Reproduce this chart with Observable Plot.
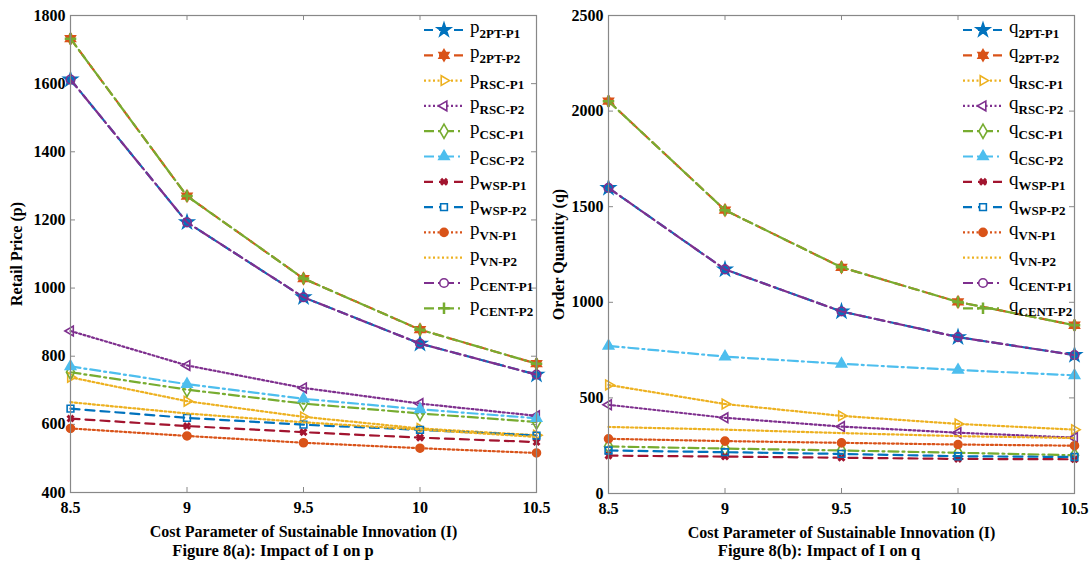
<!DOCTYPE html>
<html><head><meta charset="utf-8">
<script src="https://cdn.jsdelivr.net/npm/d3@7"></script>
<script src="https://cdn.jsdelivr.net/npm/@observablehq/plot@0.6"></script>
<style>
body{margin:0;background:#fff;font-family:"Liberation Serif","Times New Roman",serif;}
#wrap{display:flex;width:1092px;}
.panel{position:relative;width:546px;}
.panel > svg{overflow:visible;}
.panel:first-child{z-index:2;}
.caption{text-align:center;font-weight:bold;font-size:16.5px;line-height:20px;color:#000;padding-top:1px;}
.legend{position:absolute;left:0;top:0;pointer-events:none;}
</style></head><body><div id="wrap"></div>
<script>
// ---------- data ----------
const I = [8.5, 9, 9.5, 10, 10.5];
const xTicks = [8.5, 9, 9.5, 10, 10.5];
const xTickLabels = ["8.5", "9", "9.5", "10", "10.5"];
const pTicks = [400, 600, 800, 1000, 1200, 1400, 1600, 1800];
const qTicks = [0, 500, 1000, 1500, 2000, 2500];
const seriesKeys = ["2PT-P1","2PT-P2","RSC-P1","RSC-P2","CSC-P1","CSC-P2","WSP-P1","WSP-P2","VN-P1","VN-P2","CENT-P1","CENT-P2"];

// Figure 8(a): retail price p
const p_2PT_P1  = [1612, 1193, 973, 837, 746];
const p_2PT_P2  = [1732, 1270, 1028, 878, 778];
const p_RSC_P1  = [738, 668, 622, 588, 568];
const p_RSC_P2  = [874, 773, 707, 661, 625];
const p_CSC_P1  = [753, 702, 661, 632, 607];
const p_CSC_P2  = [770, 718, 675, 644, 618];
const p_WSP_P1  = [617, 595, 577, 561, 548];
const p_WSP_P2  = [646, 619, 599, 584, 567];
const p_VN_P1   = [588, 566, 546, 530, 516];
const p_VN_P2   = [665, 632, 606, 585, 563];
const p_CENT_P1 = [1612, 1193, 973, 837, 746];
const p_CENT_P2 = [1732, 1270, 1028, 878, 778];

// Figure 8(b): order quantity q
const q_2PT_P1  = [1598, 1172, 952, 818, 724];
const q_2PT_P2  = [2052, 1482, 1183, 1002, 880];
const q_RSC_P1  = [568, 468, 406, 364, 334];
const q_RSC_P2  = [464, 396, 350, 318, 292];
const q_CSC_P1  = [246, 235, 225, 213, 200];
const q_CSC_P2  = [772, 716, 678, 646, 618];
const q_WSP_P1  = [198, 193, 187, 181, 179];
const q_WSP_P2  = [225, 216, 207, 195, 191];
const q_VN_P1   = [286, 274, 265, 256, 250];
const q_VN_P2   = [348, 334, 316, 300, 290];
const q_CENT_P1 = [1598, 1172, 952, 818, 724];
const q_CENT_P2 = [2052, 1482, 1183, 1002, 880];

const pValues = [p_2PT_P1,p_2PT_P2,p_RSC_P1,p_RSC_P2,p_CSC_P1,p_CSC_P2,p_WSP_P1,p_WSP_P2,p_VN_P1,p_VN_P2,p_CENT_P1,p_CENT_P2];
const qValues = [q_2PT_P1,q_2PT_P2,q_RSC_P1,q_RSC_P2,q_CSC_P1,q_CSC_P2,q_WSP_P1,q_WSP_P2,q_VN_P1,q_VN_P2,q_CENT_P1,q_CENT_P2];

// ---------- custom symbols ----------
function poly(ctx, pts){ ctx.moveTo(pts[0][0],pts[0][1]); for(let i=1;i<pts.length;i++) ctx.lineTo(pts[i][0],pts[i][1]); ctx.closePath(); }
const hexagram = {draw(ctx, size){ const R=Math.sqrt(size/Math.PI)*1.35, r=R/Math.sqrt(3); const pts=[];
  for(let i=0;i<12;i++){ const a=-Math.PI/2+i*Math.PI/6, rr=i%2?r:R; pts.push([rr*Math.cos(a), rr*Math.sin(a)]); } poly(ctx,pts);} };
const triRight = {draw(ctx, size){ const R=Math.sqrt(size/Math.PI)*1.3; poly(ctx,[[R,0],[-R/2,-R*Math.sqrt(3)/2],[-R/2,R*Math.sqrt(3)/2]]);} };
const triLeft  = {draw(ctx, size){ const R=Math.sqrt(size/Math.PI)*1.3; poly(ctx,[[-R,0],[R/2,-R*Math.sqrt(3)/2],[R/2,R*Math.sqrt(3)/2]]);} };
const triUp    = {draw(ctx, size){ const R=Math.sqrt(size/Math.PI)*1.3; poly(ctx,[[0,-R],[R*Math.sqrt(3)/2,R/2],[-R*Math.sqrt(3)/2,R/2]]);} };
const d3sym = {star:d3.symbolStar, diamond:d3.symbolDiamond, times:d3.symbolTimes, square:d3.symbolSquare, circle:d3.symbolCircle, plus:d3.symbolPlus};

const DASH="9,6", DOT="2,2.5", DASHDOT="10,4,2,4";
const styleOf = {
  "2PT-P1": {color:"#0072BD", dash:DASH, symbol:"star", fill:true, r:4.2},
  "2PT-P2": {color:"#D95319", dash:DASH, symbol:hexagram, fill:true, r:4.2},
  "RSC-P1": {color:"#EDB120", dash:DOT, symbol:triRight, fill:false, r:4.3},
  "RSC-P2": {color:"#7E2F8E", dash:DOT, symbol:triLeft, fill:false, r:4.3},
  "CSC-P1": {color:"#77AC30", dash:DASHDOT, symbol:"diamond", fill:false, r:4.3},
  "CSC-P2": {color:"#4DBEEE", dash:DASHDOT, symbol:triUp, fill:true, r:4.6},
  "WSP-P1": {color:"#A2142F", dash:DASH, symbol:"times", fill:false, r:2.8, sw:3},
  "WSP-P2": {color:"#0072BD", dash:DASH, symbol:"square", fill:false, r:3.8},
  "VN-P1":  {color:"#D95319", dash:DOT, symbol:"circle", fill:true, r:4},
  "VN-P2":  {color:"#EDB120", dash:DOT, symbol:null},
  "CENT-P1":{color:"#7E2F8E", dash:DASHDOT, symbol:"circle", fill:false, r:4.3},
  "CENT-P2":{color:"#77AC30", dash:DASHDOT, symbol:"plus", fill:false, r:3.8, sw:2.5}
};

function makePanel(values, opts){
  const {letter, yLabel, yDomain, yTicks, ml, mr, mb, mt, legendX, caption, yLabelOffset} = opts;
  const H = 540, W = 546;
  const innerH = H - mt - mb, innerW = W - ml - mr;
  const marks = [];
  seriesKeys.forEach((k, si) => {
    const st = styleOf[k];
    const rows = I.map((x, i) => ({I: x, v: values[si][i], key: k}));
    marks.push(Plot.line(rows, {x: "I", y: "v", stroke: st.color, strokeWidth: 2.2, strokeDasharray: st.dash}));
    if (st.symbol) marks.push(Plot.dot(rows, {x: "I", y: "v", symbol: st.symbol, r: st.r,
      stroke: st.color, strokeWidth: st.sw || 1.6, fill: st.fill ? st.color : "none"}));
  });
  const chart = Plot.plot({
    width: W, height: H, marginLeft: ml, marginRight: mr, marginTop: mt, marginBottom: mb,
    style: {fontFamily: '"Liberation Serif","Times New Roman",serif', fontSize: "16px", fontWeight: "bold", color: "#000", background: "none", overflow: "visible"},
    x: {domain: [8.5, 10.5]},
    y: {domain: yDomain},
    marks: [
      Plot.ruleX(xTicks, {x: d => d, stroke: "#888", insetTop: innerH - 5}),
      Plot.ruleX(xTicks, {x: d => d, stroke: "#888", insetBottom: innerH - 5}),
      Plot.ruleY(yTicks, {y: d => d, stroke: "#888", insetRight: innerW - 5}),
      Plot.ruleY(yTicks, {y: d => d, stroke: "#888", insetLeft: innerW - 5}),
      ...marks,
      Plot.frame({stroke: "#888", strokeWidth: 1.2}),
      Plot.axisX(xTicks, {tickSize: 0, tickPadding: 9, tickFormat: d => xTickLabels[xTicks.indexOf(d)],
        label: "Cost Parameter of Sustainable Innovation (I)", labelAnchor: "center", labelArrow: "none", labelOffset: 44}),
      Plot.axisY(yTicks, {tickSize: 0, tickPadding: 5, tickFormat: d => String(d), label: yLabel, labelAnchor: "center", labelArrow: "none", labelOffset: yLabelOffset})
    ]
  });
  const panel = document.createElement("div");
  panel.className = "panel";
  panel.appendChild(chart);
  // legend
  const lg = d3.create("svg").attr("class", "legend").attr("width", W).attr("height", 330);
  seriesKeys.forEach((k, i) => {
    const st = styleOf[k];
    const y = 30 + i * 25.3;
    const g = lg.append("g");
    g.append("line").attr("x1", legendX).attr("x2", legendX + 40).attr("y1", y).attr("y2", y)
      .attr("stroke", st.color).attr("stroke-width", 2.2).attr("stroke-dasharray", st.dash);
    if (st.symbol) {
      const type = typeof st.symbol === "string" ? d3sym[st.symbol] : st.symbol;
      g.append("path").attr("transform", `translate(${legendX + 20},${y})`)
        .attr("d", d3.symbol(type, Math.PI * st.r * st.r)())
        .attr("stroke", st.color).attr("stroke-width", st.sw || 1.6)
        .attr("fill", st.fill ? st.color : "#fff");
    }
    const t = g.append("text").attr("x", legendX + 46).attr("y", y + 3)
      .attr("font-family", '"Liberation Serif","Times New Roman",serif').attr("fill", "#000");
    t.append("tspan").attr("font-size", 19).text(letter);
    t.append("tspan").attr("font-size", 13).attr("font-weight", "bold").attr("dy", 5).text(k);
  });
  panel.appendChild(lg.node());
  const cap = document.createElement("div");
  cap.className = "caption";
  cap.textContent = caption;
  panel.appendChild(cap);
  document.getElementById("wrap").appendChild(panel);
}

makePanel(pValues, {letter: "p", yLabel: "Retail Price (p)", yDomain: [400, 1800], yTicks: pTicks,
  ml: 70, mr: 10, mt: 15, mb: 48, legendX: 424, yLabelOffset: 60, caption: "Figure 8(a): Impact of I on p"});
makePanel(qValues, {letter: "q", yLabel: "Order Quantity (q)", yDomain: [0, 2500], yTicks: qTicks,
  ml: 62, mr: 18, mt: 15, mb: 47, legendX: 417, yLabelOffset: 56, caption: "Figure 8(b): Impact of I on q"});
</script></body></html>
